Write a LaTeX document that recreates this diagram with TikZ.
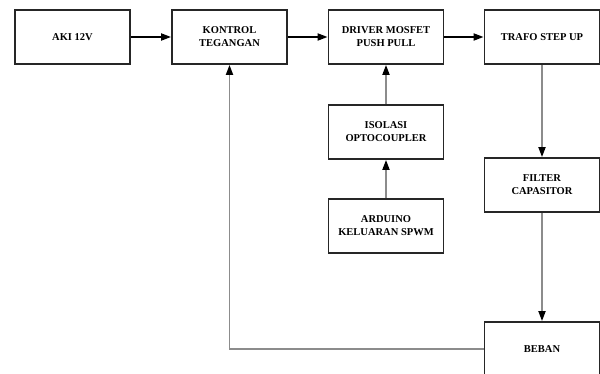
\documentclass[tikz,border=0pt]{standalone}
\usepackage{fontspec}
\setmainfont{Liberation Serif}
\usetikzlibrary{positioning, calc, arrows.meta}

\tikzset{
  blok/.style={draw=black!85, line width=1.8pt, fill=white, minimum width=115pt,
    minimum height=54pt, inner sep=0pt, align=center,
    font=\fontsize{10.5}{13}\selectfont\bfseries},
  panah/.style={line width=1.8pt, -{Triangle[length=10pt,width=7pt,color=black]}},
  panahabu/.style={panah, draw=black!45},
}

\begin{document}
\begin{tikzpicture}[x=1pt,y=-1pt]
			\clip (0,0) rectangle (600,374);
			\fill[white] (0,0) rectangle (600,374);
			% blok baris atas
			\node[blok] (aki) at (72.5,37) {AKI 12V};
			\node[blok] (kontrol) at (229.5,37) {KONTROL\\TEGANGAN};
			\node[blok] (driver) at (386,37) {DRIVER MOSFET\\PUSH PULL};
			\node[blok] (trafo) at (542,37) {TRAFO STEP UP};
			% blok kolom
			\node[blok] (isolasi) at (386,132) {ISOLASI\\OPTOCOUPLER};
			\node[blok] (arduino) at (386,226) {ARDUINO\\KELUARAN SPWM};
			\node[blok] (filter) at (542,185) {FILTER\\CAPASITOR};
			\node[blok] (beban) at (542,349) {BEBAN};
			% panah
			\draw[panah] (aki) -- (kontrol);
			\draw[panah] (kontrol) -- (driver);
			\draw[panah] (driver) -- (trafo);
			\draw[panahabu] (arduino) -- (isolasi);
			\draw[panahabu] (isolasi) -- (driver);
			\draw[panahabu] (trafo) -- (filter);
			\draw[panahabu] (filter) -- (beban);
			\draw[panahabu] (beban.west) -- (kontrol.south |- beban.west) -- (kontrol.south);
			\end{tikzpicture}
\end{document}
